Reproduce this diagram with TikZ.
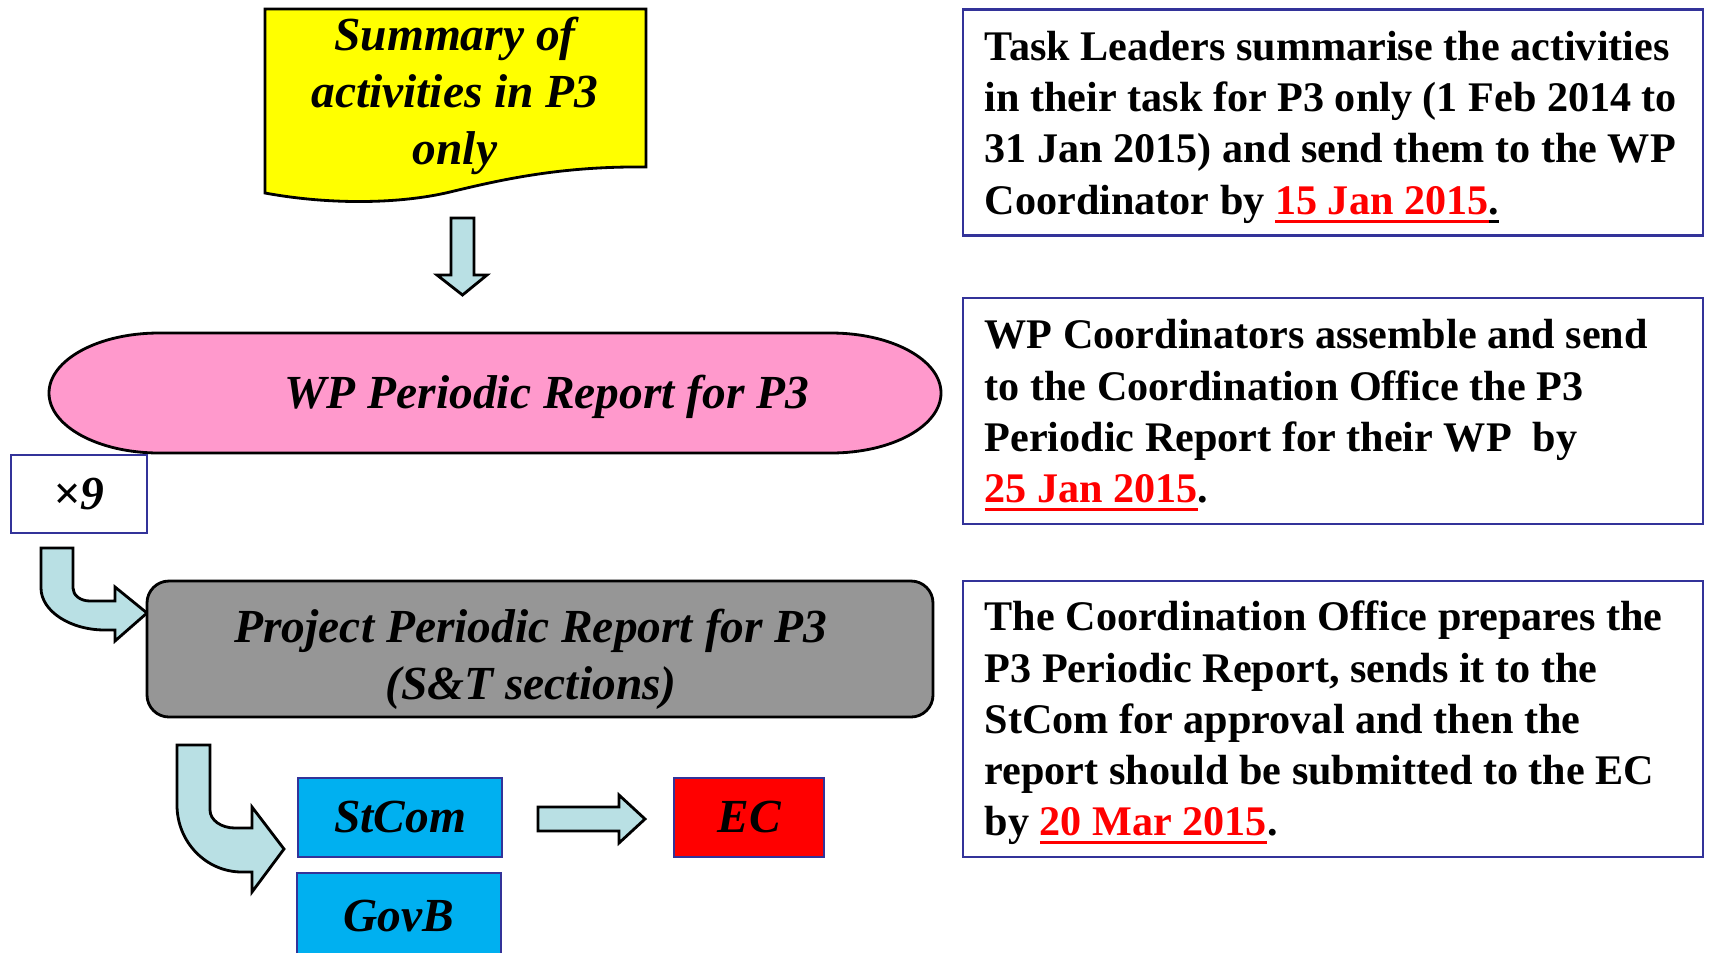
\documentclass[tikz,border=0pt]{standalone}
\usepackage{fontspec}
\setmainfont{Liberation Serif}
\definecolor{docyellow}{RGB}{255,255,0}
\definecolor{wppink}{RGB}{255,153,204}
\definecolor{projgray}{RGB}{150,150,150}
\definecolor{arrowblue}{RGB}{185,224,228}
\definecolor{bodyblue}{RGB}{0,176,240}
\definecolor{frameblue}{RGB}{51,51,153}
\newcommand{\uln}[1]{\setbox0\hbox{#1}\rlap{\vrule width\wd0 height -1.5pt depth 2.4pt}\box0}
\newcommand{\due}[1]{\textcolor{red}{\uln{#1}}}
\begin{document}
\begin{tikzpicture}[y=-1cm,
	blockarrow/.style={draw=black,line width=0.8pt,fill=arrowblue},
	italicfont/.style={font=\fontsize{13.5}{16.3}\selectfont\bfseries\itshape},
	framebox/.style={draw=frameblue,line width=0.8pt,italicfont},
	notebox/.style={draw=frameblue,line width=0.8pt,minimum width=7.4cm},
	notetext/.style={anchor=west,inner sep=0pt,align=left,font=\fontsize{12}{14.6}\selectfont\bfseries}]
	\clip (0,0) rectangle (17.12,9.52);
	%\draw[line width=0.05pt,gray,dashed] (0,0) grid (17,9);
	% left column
	\draw[line width=0.8pt,fill=docyellow] (2.65,0.09)--(6.46,0.09)--(6.46,1.67)
		.. controls (5.6,1.66) and (5.0,1.80) .. (4.5,1.92)
		.. controls (4.0,2.04) and (3.3,2.05) .. (2.65,1.93)--cycle;
	\node[italicfont,align=center] (summary) at (4.55,0.96) {Summary of\\activities in P3\\only};
	\draw[blockarrow] (4.51,2.18)--(4.74,2.18)--(4.74,2.75)--(4.87,2.75)--(4.625,2.95)
		--(4.37,2.75)--(4.51,2.75)--cycle;
	\draw[line width=0.8pt,fill=wppink] (1.59,3.33)--(8.31,3.33)
		.. controls (8.92,3.33) and (9.41,3.60) .. (9.41,3.93)
		.. controls (9.41,4.26) and (8.92,4.53) .. (8.31,4.53)--(1.59,4.53)
		.. controls (0.98,4.53) and (0.49,4.26) .. (0.49,3.93)
		.. controls (0.49,3.60) and (0.98,3.33) .. (1.59,3.33)--cycle;
	\node[italicfont] (wpreport) at (5.47,3.97) {WP Periodic Report for P3};
	\node[framebox,minimum width=1.36cm,minimum height=0.78cm] (times) at (0.79,4.94) {×9};
	\draw[blockarrow] (0.41,5.48)--(0.73,5.48)--(0.73,5.88)
		.. controls (0.73,5.95) and (0.80,6.01) .. (0.90,6.01)--(1.15,6.01)--(1.15,5.87)
		--(1.47,6.13)--(1.15,6.41)--(1.15,6.30)--(1.05,6.30)
		.. controls (0.70,6.30) and (0.41,6.11) .. (0.41,5.88)--cycle;
	\node[draw,line width=0.8pt,fill=projgray,rounded corners=0.22cm,minimum width=7.86cm,
		minimum height=1.36cm] (project) at (5.40,6.49) {};
	\node[italicfont,align=center] (projecttext) at (5.31,6.59) {Project Periodic Report for P3\\(S\&T sections)};
	\draw[blockarrow] (1.77,7.45)--(2.10,7.45)--(2.10,8.10)
		.. controls (2.10,8.20) and (2.21,8.28) .. (2.35,8.28)--(2.52,8.28)--(2.52,8.07)
		--(2.84,8.49)--(2.52,8.92)--(2.52,8.72)--(2.42,8.72)
		.. controls (2.06,8.72) and (1.77,8.42) .. (1.77,8.05)--cycle;
	\node[framebox,fill=bodyblue,minimum width=2.04cm,minimum height=0.79cm] (stcom) at (4.00,8.175) {StCom};
	\node[framebox,fill=bodyblue,minimum width=2.04cm,minimum height=0.86cm] (govb) at (3.99,9.16) {GovB};
	\draw[blockarrow] (5.38,8.07)--(6.19,8.07)--(6.19,7.95)--(6.45,8.19)--(6.19,8.43)
		--(6.19,8.31)--(5.38,8.31)--cycle;
	\node[framebox,fill=red,minimum width=1.50cm,minimum height=0.79cm] (ec) at (7.49,8.175) {EC};
	% right column
	\node[notebox,minimum height=2.26cm] (note1) at (13.33,1.228) {};
	\node[notetext] (note1text) at (9.84,1.272)
		{Task Leaders summarise the activities\\in their task for P3 only (1 Feb 2014 to\\31 Jan 2015) and send them to the WP\\Coordinator by \due{15 Jan 2015}\uln{.}};
	\node[notebox,minimum height=2.26cm] (note2) at (13.33,4.11) {};
	\node[notetext] (note2text) at (9.84,4.154)
		{WP Coordinators assemble and send\\to the Coordination Office the P3\\Periodic Report for their WP~ by\\\due{25 Jan 2015}.};
	\node[notebox,minimum height=2.76cm] (note3) at (13.33,7.19) {};
	\node[notetext] (note3text) at (9.84,7.23)
		{The Coordination Office prepares the\\P3 Periodic Report, sends it to the\\StCom for approval and then the\\report should be submitted to the EC\\by \due{20 Mar 2015}.};
\end{tikzpicture}
\end{document}
